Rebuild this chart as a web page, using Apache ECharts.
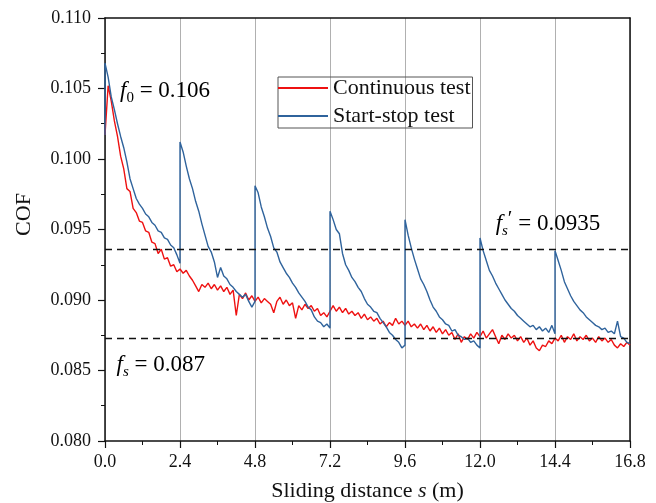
<!DOCTYPE html>
<html>
<head>
<meta charset="utf-8">
<script src="https://cdn.jsdelivr.net/npm/echarts@6/dist/echarts.min.js"></script>
<style>
  html, body { margin: 0; padding: 0; background: #fff; }
  #main { width: 656px; height: 503px; }
</style>
</head>
<body>
<div id="main"></div>
<script>
// sampling step along the sliding distance (m)
var step = 0.1;

// continuous test, COF every 0.1 m from 0 to 16.8 m
var contCOF = [
  0.1017, 0.1052, 0.1041, 0.1027, 0.1016, 0.1002, 0.0993, 0.0979, 0.0977, 0.0965,
  0.0962, 0.0956, 0.0955, 0.0949, 0.0948, 0.0941, 0.0940, 0.0933, 0.0936, 0.0929,
  0.0930, 0.0924, 0.0925, 0.0920, 0.0922, 0.0919, 0.0921, 0.0917, 0.0914, 0.0910,
  0.0906, 0.0911, 0.0909, 0.0912, 0.0908, 0.0911, 0.0907, 0.0910, 0.0906, 0.0909,
  0.0904, 0.0907, 0.0889, 0.0904, 0.0901, 0.0905, 0.0900, 0.0903, 0.0899, 0.0902,
  0.0898, 0.0901, 0.0899, 0.0897, 0.0891, 0.0899, 0.0902, 0.0897, 0.0900, 0.0896,
  0.0898, 0.0887, 0.0896, 0.0893, 0.0897, 0.0894, 0.0896, 0.0892, 0.0894, 0.0889,
  0.0891, 0.0888, 0.0892, 0.0896, 0.0892, 0.0895, 0.0891, 0.0894, 0.0890, 0.0892,
  0.0889, 0.0891, 0.0887, 0.0890, 0.0886, 0.0888, 0.0885, 0.0887, 0.0883, 0.0885,
  0.0881, 0.0884, 0.0882, 0.0887, 0.0883, 0.0885, 0.0882, 0.0885, 0.0881, 0.0883,
  0.0880, 0.0883, 0.0879, 0.0882, 0.0878, 0.0881, 0.0877, 0.0880, 0.0876, 0.0879,
  0.0875, 0.0877, 0.0872, 0.0876, 0.0870, 0.0874, 0.0872, 0.0876, 0.0873, 0.0877,
  0.0874, 0.0878, 0.0873, 0.0876, 0.0879, 0.0874, 0.0869, 0.0875, 0.0872, 0.0876,
  0.0873, 0.0875, 0.0871, 0.0874, 0.0870, 0.0873, 0.0868, 0.0871, 0.0866, 0.0864,
  0.0868, 0.0867, 0.0871, 0.0869, 0.0873, 0.0871, 0.0875, 0.0870, 0.0874, 0.0872,
  0.0876, 0.0871, 0.0874, 0.0872, 0.0875, 0.0871, 0.0873, 0.0870, 0.0874, 0.0871,
  0.0873, 0.0870, 0.0872, 0.0868, 0.0866, 0.0869, 0.0867, 0.0870, 0.0868
];

// start-stop test: value read at s = 0 before the first peak
var stopStart = 0.1017;
// one run per 2.4 m, COF every 0.1 m (25 values, run start to run end)
var runStarts = [0, 2.4, 4.8, 7.2, 9.6, 12.0, 14.4];
var stopRuns = [
  [0.1068, 0.1058, 0.1044, 0.1035, 0.1025, 0.1016, 0.1008, 0.0998, 0.0986, 0.0979,
   0.0972, 0.0968, 0.0965, 0.0961, 0.0959, 0.0955, 0.0953, 0.0949, 0.0948, 0.0944,
   0.0943, 0.0939, 0.0937, 0.0932, 0.0926],
  [0.1012, 0.1005, 0.0995, 0.0986, 0.0979, 0.0970, 0.0963, 0.0954, 0.0946, 0.0938,
   0.0934, 0.0927, 0.0916, 0.0923, 0.0917, 0.0915, 0.0911, 0.0909, 0.0906, 0.0904,
   0.0902, 0.0904, 0.0899, 0.0895, 0.0899],
  [0.0981, 0.0976, 0.0966, 0.0959, 0.0951, 0.0945, 0.0937, 0.0934, 0.0927, 0.0923,
   0.0919, 0.0916, 0.0912, 0.0909, 0.0905, 0.0902, 0.0899, 0.0895, 0.0893, 0.0888,
   0.0885, 0.0884, 0.0881, 0.0883, 0.0880],
  [0.0963, 0.0957, 0.0950, 0.0947, 0.0933, 0.0925, 0.0921, 0.0916, 0.0913, 0.0909,
   0.0906, 0.0901, 0.0897, 0.0895, 0.0892, 0.0891, 0.0887, 0.0884, 0.0881, 0.0877,
   0.0875, 0.0872, 0.0870, 0.0866, 0.0868],
  [0.0957, 0.0946, 0.0937, 0.0929, 0.0922, 0.0915, 0.0911, 0.0906, 0.0900, 0.0895,
   0.0892, 0.0888, 0.0886, 0.0883, 0.0882, 0.0878, 0.0879, 0.0875, 0.0874, 0.0872,
   0.0873, 0.0870, 0.0871, 0.0868, 0.0866],
  [0.0944, 0.0935, 0.0928, 0.0921, 0.0917, 0.0912, 0.0908, 0.0904, 0.0900, 0.0897,
   0.0894, 0.0892, 0.0889, 0.0887, 0.0885, 0.0883, 0.0881, 0.0882, 0.0879, 0.0881,
   0.0878, 0.0880, 0.0877, 0.0882, 0.0876],
  [0.0935, 0.0928, 0.0921, 0.0913, 0.0908, 0.0903, 0.0899, 0.0896, 0.0893, 0.0891,
   0.0888, 0.0886, 0.0884, 0.0882, 0.0881, 0.0879, 0.0880, 0.0877, 0.0878, 0.0876,
   0.0885, 0.0874, 0.0873, 0.0870, 0.0869]
];

// reference levels (dashed lines)
var fsPrime = 0.0936;
var fsLevel = 0.0873;

var xTicks = { min: 0, max: 16.8, interval: 2.4 };
var yTicks = { min: 0.080, max: 0.110, interval: 0.005 };

var serif = "'Liberation Serif', 'DejaVu Serif', serif";

var contData = contCOF.map(function (v, i) { return [+(i * step).toFixed(1), v]; });
var stopData = [[0, stopStart]];
stopRuns.forEach(function (run, k) {
  run.forEach(function (v, i) {
    stopData.push([+(runStarts[k] + i * step).toFixed(1), v]);
  });
});

function levelLine(v) {
  return [{ xAxis: xTicks.min, yAxis: v }, { xAxis: xTicks.max, yAxis: v }];
}

var chart = echarts.init(document.getElementById('main'));

var option = {
  animation: false,
  backgroundColor: '#fff',
  grid: { left: 105, right: 26, top: 18, bottom: 62, outerBoundsMode: 'none', containLabel: false },
  legend: {
    left: 278, top: 77,
    orient: 'vertical',
    icon: 'rect',
    itemWidth: 50, itemHeight: 2,
    itemGap: 6,
    padding: [0, 2, 1, 0],
    borderColor: '#555', borderWidth: 1,
    textStyle: { fontFamily: serif, fontSize: 22, color: '#111', lineHeight: 22 },
    data: ['Continuous test', 'Start-stop test']
  },
  xAxis: [{
    type: 'value',
    min: xTicks.min, max: xTicks.max, interval: xTicks.interval,
    name: '{n|Sliding distance }{i|s}{n| (m)}',
    nameLocation: 'middle', nameGap: 39, nameMoveOverlap: false,
    nameTextStyle: {
      rich: {
        n: { fontFamily: serif, fontSize: 22, color: '#111' },
        i: { fontFamily: serif, fontSize: 22, color: '#111', fontStyle: 'italic' }
      }
    },
    axisLine: { show: true, onZero: false, lineStyle: { color: '#111', width: 1.5 } },
    axisTick: { show: true, length: 7, lineStyle: { color: '#111', width: 1.2 } },
    minorTick: { show: true, splitNumber: 2, length: 4, lineStyle: { color: '#111', width: 1 } },
    axisLabel: {
      margin: 12, fontFamily: serif, fontSize: 18, color: '#111',
      formatter: function (v) { return v.toFixed(1); }
    },
    splitLine: { show: true, lineStyle: { color: '#b0b0b0', width: 1 } }
  }, {
    type: 'value', position: 'top',
    min: xTicks.min, max: xTicks.max,
    axisLine: { show: true, onZero: false, lineStyle: { color: '#111', width: 1.5 } },
    axisTick: { show: false }, axisLabel: { show: false }, splitLine: { show: false }
  }],
  yAxis: [{
    type: 'value',
    min: yTicks.min, max: yTicks.max, interval: yTicks.interval,
    name: 'COF',
    nameLocation: 'middle', nameGap: 70, nameMoveOverlap: false,
    nameTextStyle: { fontFamily: serif, fontSize: 22, color: '#111', padding: [0, 0, 0, 30] },
    axisLine: { show: true, onZero: false, lineStyle: { color: '#111', width: 1.5 } },
    axisTick: { show: true, length: 7, lineStyle: { color: '#111', width: 1.2 } },
    minorTick: { show: true, splitNumber: 2, length: 4, lineStyle: { color: '#111', width: 1 } },
    axisLabel: {
      margin: 14, fontFamily: serif, fontSize: 18, color: '#111',
      formatter: function (v) { return v.toFixed(3); }
    },
    splitLine: { show: false }
  }, {
    type: 'value', position: 'right',
    min: yTicks.min, max: yTicks.max,
    axisLine: { show: true, onZero: false, lineStyle: { color: '#111', width: 1.5 } },
    axisTick: { show: false }, axisLabel: { show: false }, splitLine: { show: false }
  }],
  series: [{
    name: 'Continuous test',
    type: 'line',
    data: contData,
    showSymbol: false, symbol: 'none',
    itemStyle: { color: '#ee1111' },
    lineStyle: { color: '#ee1111', width: 1.4 },
    z: 3
  }, {
    name: 'Start-stop test',
    type: 'line',
    data: stopData,
    showSymbol: false, symbol: 'none',
    itemStyle: { color: '#2f639c' },
    lineStyle: { color: '#2f639c', width: 1.4 },
    z: 4,
    markLine: {
      silent: true,
      symbol: ['none', 'none'],
      label: { show: false },
      lineStyle: { color: '#111', type: [7, 5], width: 1.3 },
      data: [levelLine(fsPrime), levelLine(fsLevel)]
    }
  }]
};
chart.setOption(option);

// annotation text, anchored in data space
function note(s, v, text) {
  var p = chart.convertToPixel({ gridIndex: 0 }, [s, v]);
  return {
    type: 'text', x: p[0], y: p[1], z: 10,
    style: {
      text: text,
      verticalAlign: 'middle',
      rich: {
        f: { fontFamily: serif, fontSize: 23, fontStyle: 'italic', color: '#111', lineHeight: 24 },
        n: { fontFamily: serif, fontSize: 23, color: '#111', lineHeight: 24 },
        sub: { fontFamily: serif, fontSize: 15, color: '#111', padding: [14, 0, 0, 0] },
        subi: { fontFamily: serif, fontSize: 15, fontStyle: 'italic', color: '#111', padding: [14, 0, 0, 0] },
        p: { fontFamily: serif, fontSize: 21, color: '#111', padding: [0, 0, 8, 0] }
      }
    }
  };
}
chart.setOption({
  graphic: [
    note(0.48, 0.1048, '{f|f}{sub|0}{n| = 0.106}'),
    note(12.5, 0.0954, '{f|f}{subi|s}{p|′}{n| = 0.0935}'),
    note(0.37, 0.0854, '{f|f}{subi|s}{n| = 0.087}')
  ]
});
</script>
</body>
</html>
